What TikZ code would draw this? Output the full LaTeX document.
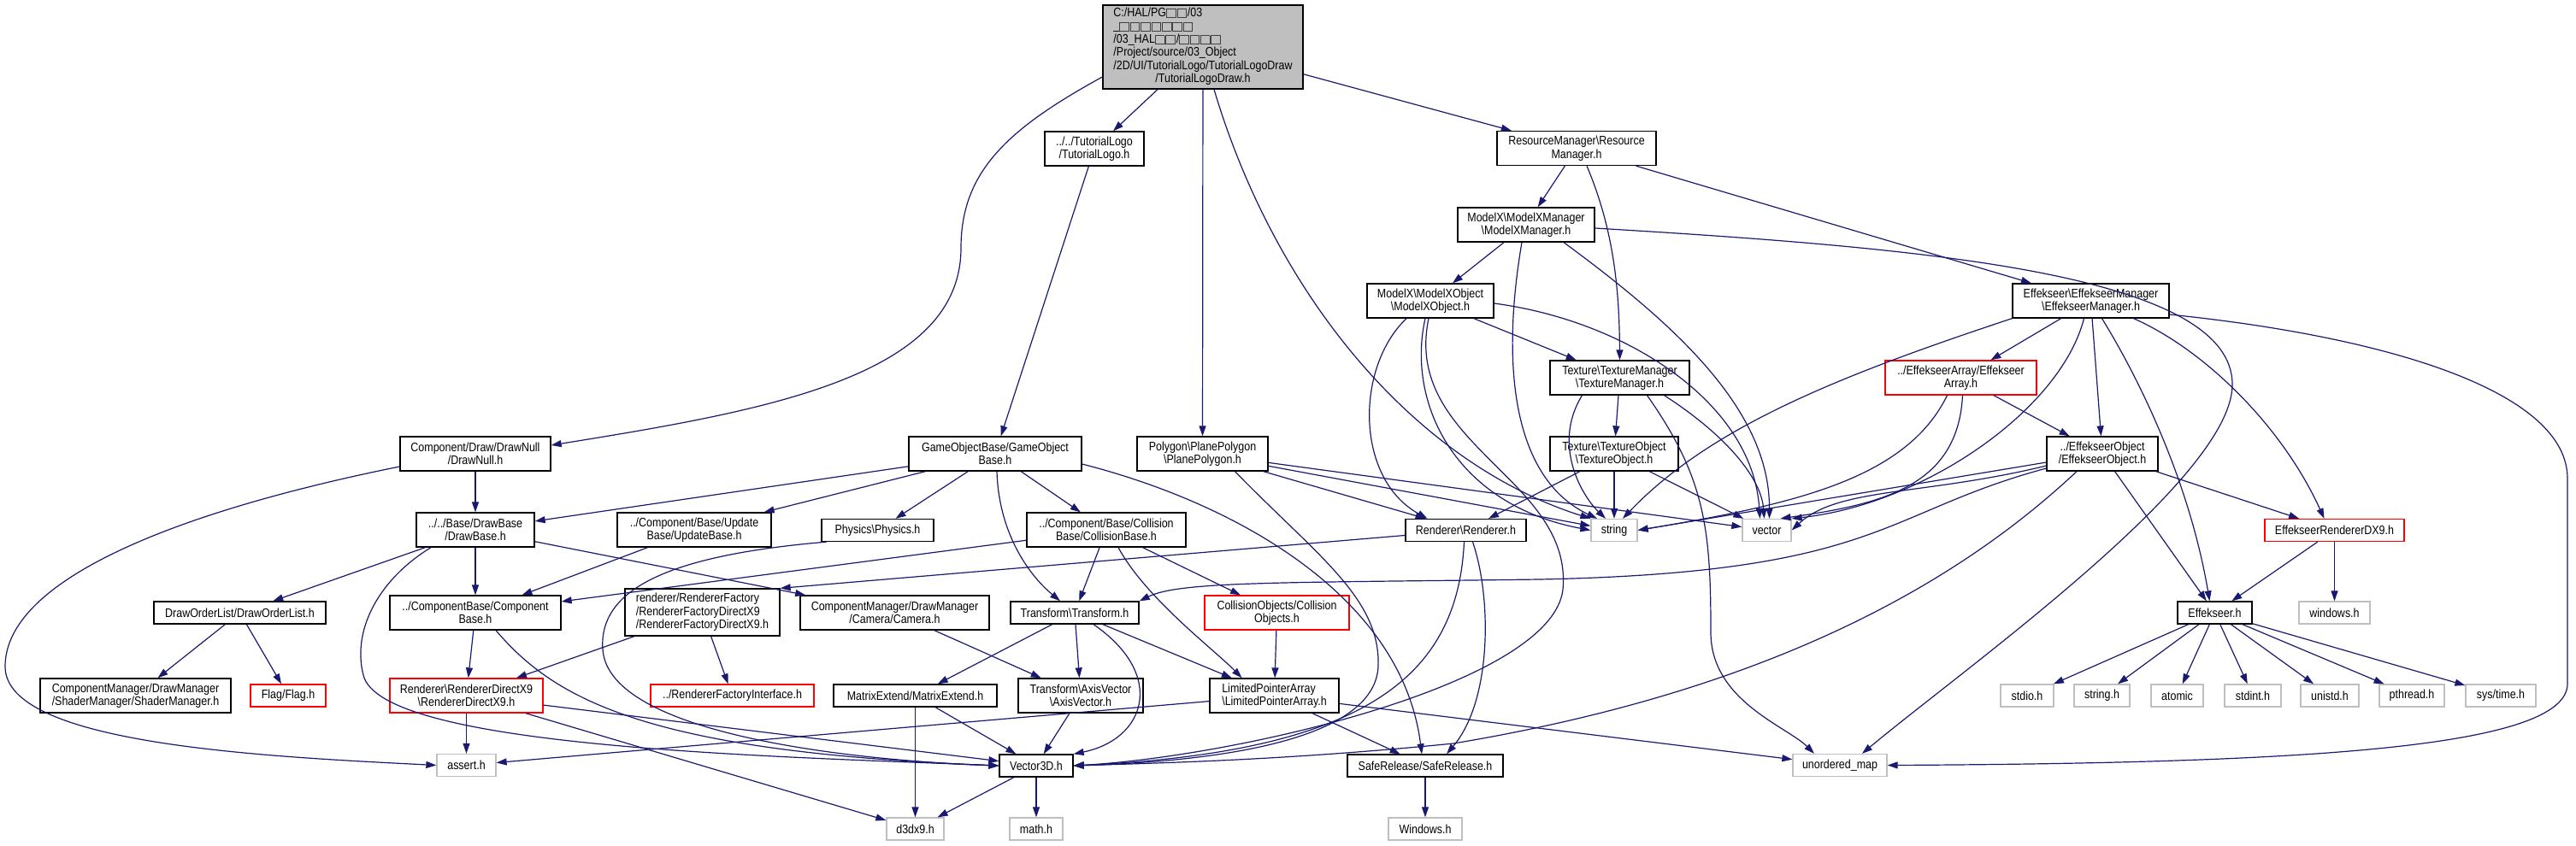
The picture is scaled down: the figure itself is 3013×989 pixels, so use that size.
\documentclass[tikz,border=0pt]{standalone}
\usepackage{fontspec}
\setmainfont{Liberation Sans}[FakeStretch=0.86]
\usetikzlibrary{arrows.meta}

\definecolor{edgeblue}{RGB}{25,25,112}
\definecolor{boxgray}{RGB}{191,191,191}
\newcommand{\dirsep}{\textbackslash{}}
\newcommand{\tofu}{{\setlength{\fboxsep}{0.8pt}\setlength{\fboxrule}{0.9pt}\fcolorbox{darkgray}{lightgray}{\rule{0pt}{7.5pt}\hspace{8pt}}}\hspace{1pt}}

\tikzset{
  hdr/.style={draw=black, fill=white, line width=1.3pt, inner sep=0pt, minimum height=26pt, align=center, font=\fontsize{14.5}{15.5}\selectfont},
  tall/.style={minimum height=40pt},
  redhdr/.style={hdr, draw=red},
  syshdr/.style={hdr, draw=boxgray},
  inc/.style={draw=edgeblue, line width=1.2pt, -{Triangle[length=12pt,width=8pt]}}
}

\begin{document}
\begin{tikzpicture}[x=1pt, y=-1pt]
    \useasboundingbox (0,0) rectangle (3013,989);

    % Draw nodes
    \node[hdr, fill=boxgray, minimum width=234pt, minimum height=98pt] (root) at (1407,55) {\begin{tabular}{@{}l@{}}C:/HAL/PG\tofu\tofu/03\\ \_\tofu\tofu\tofu\tofu\tofu\tofu\tofu\\ /03\_HAL\tofu\tofu/\tofu\tofu\tofu\tofu\\ /Project/source/03\_Object\\ /2D/UI/TutorialLogo/TutorialLogoDraw\\ \multicolumn{1}{@{}c@{}}{/TutorialLogoDraw.h}\end{tabular}};
    \node[hdr, tall, minimum width=116pt] (tlogo) at (1280,174) {../../TutorialLogo\\/TutorialLogo.h};
    \node[hdr, tall, minimum width=186pt] (resmgr) at (1844,173.5) {ResourceManager\dirsep Resource\\Manager.h};
    \node[hdr, tall, minimum width=160pt] (modelxmgr) at (1785,263) {ModelX\dirsep ModelXManager\\\dirsep ModelXManager.h};
    \node[hdr, tall, minimum width=148pt] (modelxobj) at (1673,352) {ModelX\dirsep ModelXObject\\\dirsep ModelXObject.h};
    \node[hdr, tall, minimum width=183pt] (effmgr) at (2445.5,352) {Effekseer\dirsep EffekseerManager\\\dirsep EffekseerManager.h};
    \node[hdr, tall, minimum width=163pt] (texmgr) at (1894.5,442) {Texture\dirsep TextureManager\\\dirsep TextureManager.h};
    \node[redhdr, tall, minimum width=177pt] (effarr) at (2293.5,442) {../EffekseerArray/Effekseer\\Array.h};
    \node[hdr, tall, minimum width=176pt] (drawnull) at (556,531) {Component/Draw/DrawNull\\/DrawNull.h};
    \node[hdr, tall, minimum width=202pt] (gameobj) at (1164,531) {GameObjectBase/GameObject\\Base.h};
    \node[hdr, tall, minimum width=153pt] (polygon) at (1406.5,531) {Polygon\dirsep PlanePolygon\\\dirsep PlanePolygon.h};
    \node[hdr, tall, minimum width=150pt] (texobj) at (1888,531) {Texture\dirsep TextureObject\\\dirsep TextureObject.h};
    \node[hdr, tall, minimum width=130pt] (effobj) at (2459,531) {../EffekseerObject\\/EffekseerObject.h};
    \node[hdr, tall, minimum width=138pt] (drawbase) at (556,620) {../../Base/DrawBase\\/DrawBase.h};
    \node[hdr, tall, minimum width=180pt] (updatebase) at (812,620) {../Component/Base/Update\\Base/UpdateBase.h};
    \node[hdr, minimum width=131pt] (physics) at (1026.5,620.5) {Physics\dirsep Physics.h};
    \node[hdr, tall, minimum width=186pt] (collbase) at (1294,620) {../Component/Base/Collision\\Base/CollisionBase.h};
    \node[hdr, minimum width=141pt] (renderer) at (1714.5,620.5) {Renderer\dirsep Renderer.h};
    \node[syshdr, minimum width=54pt] (string) at (1888,620.5) {string};
    \node[syshdr, minimum width=57pt] (vector) at (2066.5,620.5) {vector};
    \node[redhdr, minimum width=163pt] (effrdx9) at (2730.5,620.5) {EffekseerRendererDX9.h};
    \node[hdr, minimum width=201pt] (draworder) at (280.5,717) {DrawOrderList/DrawOrderList.h};
    \node[hdr, tall, minimum width=200pt] (compbase) at (556,717) {../ComponentBase/Component\\Base.h};
    \node[hdr, align=left, minimum width=181pt, minimum height=55pt] (rfdx9) at (821.5,716.5) {renderer/RendererFactory\\/RendererFactoryDirectX9\\/RendererFactoryDirectX9.h};
    \node[hdr, tall, minimum width=221pt] (camera) at (1046.5,717) {ComponentManager/DrawManager\\/Camera/Camera.h};
    \node[hdr, minimum width=150pt] (transform) at (1257,717) {Transform\dirsep Transform.h};
    \node[redhdr, tall, minimum width=169pt] (collobj) at (1493.5,717) {CollisionObjects/Collision\\Objects.h};
    \node[hdr, minimum width=87pt] (effekseer) at (2590.5,717) {Effekseer.h};
    \node[syshdr, minimum width=83pt] (windowsh) at (2730.5,717) {windows.h};
    \node[hdr, tall, minimum width=223pt] (shader) at (158.5,814) {ComponentManager/DrawManager\\/ShaderManager/ShaderManager.h};
    \node[redhdr, minimum width=88pt] (flag) at (337,814) {Flag/Flag.h};
    \node[redhdr, tall, minimum width=179pt] (rdx9) at (545.5,814) {Renderer\dirsep RendererDirectX9\\\dirsep RendererDirectX9.h};
    \node[redhdr, minimum width=191pt] (rfi) at (856.5,814) {../RendererFactoryInterface.h};
    \node[hdr, minimum width=191pt] (matrix) at (1070.5,814) {MatrixExtend/MatrixExtend.h};
    \node[hdr, tall, minimum width=146pt] (axis) at (1264,814) {Transform\dirsep AxisVector\\\dirsep AxisVector.h};
    \node[hdr, tall, align=left, minimum width=151pt] (limited) at (1490.5,814) {LimitedPointerArray\\\dirsep LimitedPointerArray.h};
    \node[syshdr, minimum width=62pt] (stdio) at (2371,814) {stdio.h};
    \node[syshdr, minimum width=65pt] (stringh) at (2458.5,814) {string.h};
    \node[syshdr, minimum width=61pt] (atomic) at (2546.5,814) {atomic};
    \node[syshdr, minimum width=66pt] (stdint) at (2635,814) {stdint.h};
    \node[syshdr, minimum width=68pt] (unistd) at (2725,814) {unistd.h};
    \node[syshdr, minimum width=76pt] (pthread) at (2821,814) {pthread.h};
    \node[syshdr, minimum width=82pt] (systime) at (2925,814) {sys/time.h};
    \node[syshdr, minimum width=69pt] (assert) at (545.5,895.5) {assert.h};
    \node[hdr, minimum width=86pt] (vector3d) at (1212,896) {Vector3D.h};
    \node[hdr, minimum width=182pt] (safe) at (1667,896) {SafeRelease/SafeRelease.h};
    \node[syshdr, minimum width=110pt] (umap) at (2152,895.5) {unordered\_map};
    \node[syshdr, minimum width=67pt] (d3dx9) at (1070.5,970) {d3dx9.h};
    \node[syshdr, minimum width=62pt] (math) at (1212,970) {math.h};
    \node[syshdr, minimum width=86pt] (windows) at (1667,970) {Windows.h};

    % Draw connections
    \draw[inc] ([yshift=-35pt]root.west) .. controls (1180,150) and (1124,200) .. (1124,290) .. controls (1124,440) and (900,480) .. ([yshift=10pt]drawnull.east);
    \draw[inc] (root) -- (tlogo);
    \draw[inc] (root) -- (polygon);
    \draw[inc] ([xshift=13pt]root.south) .. controls (1490,340) and (1650,540) .. (string.north west);
    \draw[inc] (root) -- (resmgr);
    \draw[inc] (tlogo) -- (gameobj);
    \draw[inc] (resmgr) -- (modelxmgr);
    \draw[inc] ([xshift=12pt]resmgr.south) .. controls (1888,270) and (1894,340) .. (texmgr.north);
    \draw[inc] (resmgr) -- (effmgr);
    \draw[inc] (modelxmgr) -- (modelxobj);
    \draw[inc] ([xshift=-5pt]modelxmgr.south) .. controls (1755,430) and (1770,560) .. ([xshift=-20pt]string.north);
    \draw[inc] ([xshift=44pt]modelxmgr.south) .. controls (1960,380) and (2070,480) .. ([xshift=3pt]vector.north);
    \draw[inc] ([yshift=-4pt]modelxmgr.east) .. controls (2250,290) and (2611,320) .. (2611,450) .. controls (2611,560) and (2300,780) .. ([xshift=26pt]umap.north);
    \draw[inc] (modelxobj) -- (texmgr);
    \draw[inc] ([xshift=-28pt]modelxobj.south) .. controls (1585,430) and (1585,560) .. ([xshift=-45pt]renderer.north);
    \draw[inc] ([xshift=-6pt]modelxobj.south) .. controls (1645,470) and (1700,590) .. (string.west);
    \draw[inc] ([xshift=-2pt]modelxobj.south) .. controls (1640,520) and (1840,560) .. (1828,690) .. controls (1815,800) and (1450,885) .. (vector3d.east);
    \draw[inc] ([yshift=-3pt]modelxobj.east) .. controls (1900,375) and (2050,470) .. ([xshift=-8pt]vector.north);
    \draw[inc] (texmgr) -- (texobj);
    \draw[inc] ([xshift=-44pt]texmgr.south) .. controls (1815,520) and (1850,580) .. ([xshift=-10pt]string.north);
    \draw[inc] ([xshift=52pt]texmgr.south) .. controls (2020,510) and (2060,560) .. ([xshift=-3pt]vector.north);
    \draw[inc] ([xshift=32pt]texmgr.south) .. controls (1995,560) and (2001,620) .. (2001,740) .. controls (2001,820) and (2090,850) .. ([xshift=-30pt]umap.north);
    \draw[inc] (texobj) -- (renderer);
    \draw[inc] (texobj) -- (string);
    \draw[inc] (texobj) -- (vector);
    \draw[inc] (effmgr.south west) .. controls (2150,440) and (2000,500) .. ([xshift=10pt]string.north);
    \draw[inc] (effmgr) -- (effarr);
    \draw[inc] (effmgr) -- (effobj);
    \draw[inc] ([xshift=-8pt]effmgr.south) .. controls (2410,480) and (2250,590) .. (vector.north east);
    \draw[inc] ([xshift=13pt]effmgr.south) .. controls (2500,440) and (2560,560) .. ([xshift=-6pt]effekseer.north);
    \draw[inc] ([xshift=50pt]effmgr.south) .. controls (2580,410) and (2670,500) .. ([xshift=-12pt]effrdx9.north);
    \draw[inc] ([yshift=-16pt]effmgr.east) .. controls (2800,395) and (3003,460) .. (3003,560) -- (3003,800) .. controls (3003,875) and (2700,893) .. (umap.east);
    \draw[inc] (effarr) -- (effobj);
    \draw[inc] ([xshift=-16pt]effarr.south) .. controls (2230,560) and (2100,590) .. (string.east);
    \draw[inc] ([xshift=2pt]effarr.south) .. controls (2290,570) and (2200,590) .. ([xshift=16pt]vector.north);
    \draw[inc] ([yshift=-10pt]effobj.west) -- (string.east);
    \draw[inc] ([yshift=-14pt]effobj.west) .. controls (2250,580) and (2150,570) .. (vector.east);
    \draw[inc] ([yshift=-17pt]effobj.west) .. controls (2200,600) and (2200,670) .. (1800,678) .. controls (1500,682) and (1380,680) .. (transform.north east);
    \draw[inc] ([xshift=-30pt]effobj.south) .. controls (2250,720) and (2000,820) .. (1700,870) .. controls (1500,890) and (1350,893) .. (vector3d.east);
    \draw[inc] (effobj) -- (effekseer);
    \draw[inc] (effobj) -- (effrdx9);
    \draw[inc] (effrdx9) -- (effekseer);
    \draw[inc] (effrdx9) -- (windowsh);
    \draw[inc] (effekseer) -- (stdio);
    \draw[inc] (effekseer) -- (stringh);
    \draw[inc] (effekseer) -- (atomic);
    \draw[inc] (effekseer) -- (stdint);
    \draw[inc] (effekseer) -- (unistd);
    \draw[inc] (effekseer) -- (pthread);
    \draw[inc] (effekseer) -- (systime);
    \draw[inc] (gameobj) -- (drawbase);
    \draw[inc] (gameobj) -- (updatebase);
    \draw[inc] (gameobj) -- (physics);
    \draw[inc] (gameobj) -- (collbase);
    \draw[inc] ([xshift=2pt]gameobj.south) .. controls (1168,620) and (1200,670) .. ([xshift=-17pt]transform.north);
    \draw[inc] ([yshift=-12pt]gameobj.east) .. controls (1450,590) and (1640,700) .. ([xshift=-4pt]safe.north);
    \draw[inc] (polygon) -- (renderer);
    \draw[inc] (polygon) -- (string);
    \draw[inc] (polygon) -- (vector);
    \draw[inc] ([xshift=38pt]polygon.south) .. controls (1540,650) and (1615,700) .. (1612,780) .. controls (1608,860) and (1450,890) .. (vector3d.east);
    \draw[inc] (collbase) -- (transform);
    \draw[inc] ([xshift=14pt]collbase.south) .. controls (1340,700) and (1420,760) .. ([xshift=-38pt]limited.north);
    \draw[inc] (collbase) -- (collobj);
    \draw[inc] (collbase) -- (compbase);
    \draw[inc] (drawnull) -- (drawbase);
    \draw[inc] ([yshift=-15pt]drawnull.west) .. controls (200,600) and (6,680) .. (6,780) .. controls (6,870) and (300,885) .. (assert.west);
    \draw[inc] (drawbase) -- (draworder);
    \draw[inc] (drawbase) -- (compbase);
    \draw[inc] (drawbase) -- (camera);
    \draw[inc] ([xshift=-52pt]drawbase.south) .. controls (440,680) and (412,740) .. (425,790) .. controls (445,875) and (900,885) .. (vector3d.west);
    \draw[inc] (updatebase) -- (compbase);
    \draw[inc] ([xshift=-60pt]physics.south) .. controls (780,650) and (700,690) .. (705,760) .. controls (712,860) and (1000,890) .. (vector3d.west);
    \draw[inc] (compbase) -- (rdx9);
    \draw[inc] ([xshift=24pt]compbase.south) .. controls (650,820) and (760,880) .. (vector3d.west);
    \draw[inc] (rfdx9) -- (rdx9);
    \draw[inc] (rfdx9) -- (rfi);
    \draw[inc] (renderer) -- (rfdx9.north east);
    \draw[inc] ([xshift=-2pt]renderer.south) .. controls (1705,790) and (1600,880) .. (vector3d.east);
    \draw[inc] ([xshift=8pt]renderer.south) .. controls (1745,700) and (1745,820) .. ([xshift=25pt]safe.north);
    \draw[inc] (rdx9) -- (assert);
    \draw[inc] (rdx9) -- (vector3d);
    \draw[inc] (rdx9) -- (d3dx9);
    \draw[inc] (camera) -- (axis);
    \draw[inc] (transform) -- (matrix);
    \draw[inc] (transform) -- (axis);
    \draw[inc] (transform) -- (limited);
    \draw[inc] ([xshift=22pt]transform.south) .. controls (1365,790) and (1340,865) .. (vector3d.north east);
    \draw[inc] (matrix) -- (d3dx9);
    \draw[inc] (matrix) -- (vector3d);
    \draw[inc] (axis) -- (vector3d);
    \draw[inc] (collobj) -- (limited);
    \draw[inc] (limited) -- (assert);
    \draw[inc] (limited) -- (safe);
    \draw[inc] (limited) -- (umap);
    \draw[inc] (vector3d) -- (d3dx9);
    \draw[inc] (vector3d) -- (math);
    \draw[inc] (safe) -- (windows);
    \draw[inc] (draworder) -- (shader);
    \draw[inc] (draworder) -- (flag);
\end{tikzpicture}
\end{document}
